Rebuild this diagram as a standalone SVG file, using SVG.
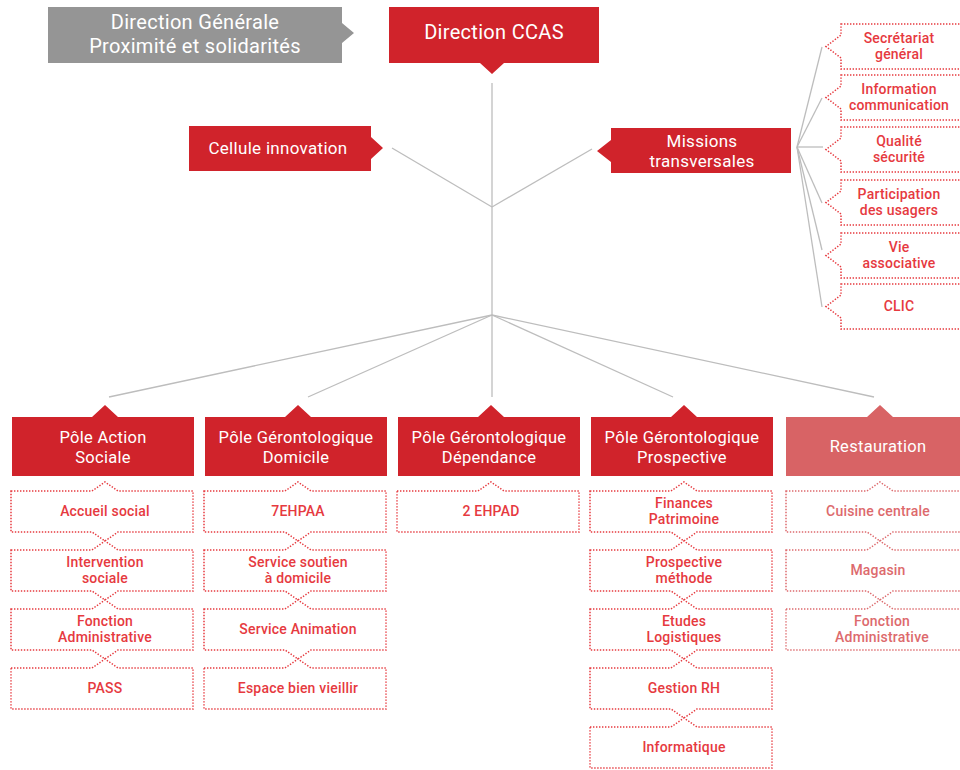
<svg xmlns="http://www.w3.org/2000/svg" width="960" height="770" viewBox="0 0 960 770">
<style>
.hdr{fill:#d0232b}
.hdrl{fill:#d86365}
.grey{fill:#959595}
.wt{fill:#ffffff;font-family:Roboto,"Liberation Sans",sans-serif;text-anchor:middle;letter-spacing:0.3px}
.sub{fill:#ffffff;stroke:#e63a3f;stroke-width:1.5;stroke-dasharray:1.4 1.6}
.subl{fill:#ffffff;stroke:#dd6a6d;stroke-width:1.5;stroke-dasharray:1.4 1.6}
.st{fill:#e63a3f;font-family:Roboto,"Liberation Sans",sans-serif;font-weight:500;font-size:14px;text-anchor:middle;letter-spacing:0.2px}
.stl{fill:#dd6a6d;font-family:Roboto,"Liberation Sans",sans-serif;font-weight:500;font-size:14px;text-anchor:middle;letter-spacing:0.2px}
.con{stroke:#bdbdbd;stroke-width:1.3;fill:none}
</style>
<rect width="960" height="770" fill="#ffffff"/>

<g id="connectors">
<line class="con" x1="492" y1="83" x2="492" y2="397"/>
<line class="con" x1="492" y1="207" x2="392" y2="148"/>
<line class="con" x1="492" y1="207" x2="592" y2="149"/>
<line class="con" x1="492" y1="315" x2="109" y2="397"/>
<line class="con" x1="492" y1="315" x2="308" y2="397"/>
<line class="con" x1="492" y1="315" x2="673" y2="397"/>
<line class="con" x1="492" y1="315" x2="874" y2="397"/>
<line class="con" x1="797" y1="147" x2="822" y2="47"/>
<line class="con" x1="797" y1="147" x2="822" y2="98"/>
<line class="con" x1="797" y1="147" x2="823" y2="147"/>
<line class="con" x1="797" y1="147" x2="822" y2="203"/>
<line class="con" x1="797" y1="147" x2="822" y2="250"/>
<line class="con" x1="797" y1="147" x2="822" y2="307"/>
</g>

<g id="direction-generale">
<path class="grey" d="M48,7 H342 V23 L354,33 L342,43 V63 H48 Z"/>
<text class="wt" x="195" y="29" font-size="20">Direction Générale</text>
<text class="wt" x="195" y="53" font-size="20">Proximité et solidarités</text>
</g>

<g id="direction-ccas">
<path class="hdr" d="M389,7 H599 V63 H504 L492,74 L480,63 H389 Z"/>
<text class="wt" x="494" y="39" font-size="20">Direction CCAS</text>
</g>

<g id="cellule-innovation">
<path class="hdr" d="M189,126 H371 V137 L383,148 L371,159 V171 H189 Z"/>
<text class="wt" x="278" y="154" font-size="17">Cellule innovation</text>
</g>

<g id="missions-transversales">
<path class="hdr" d="M611,128 H791 V173 H611 V162 L597,151 L611,140 Z"/>
<text class="wt" x="702" y="147" font-size="17">Missions</text>
<text class="wt" x="702" y="167" font-size="17">transversales</text>
</g>

<g id="missions-items">
<g id="m-secretariat">
<path class="sub" d="M841,24 H966 V69 H841 V58 L826,46.5 L841,35 Z"/>
<text class="st" x="899" y="43">Secrétariat</text>
<text class="st" x="899" y="59">général</text>
</g>
<g id="m-information">
<path class="sub" d="M841,75 H966 V120 H841 V109 L826,97.5 L841,86 Z"/>
<text class="st" x="899" y="94">Information</text>
<text class="st" x="899" y="110">communication</text>
</g>
<g id="m-qualite">
<path class="sub" d="M841,127 H966 V172 H841 V161 L826,149.5 L841,138 Z"/>
<text class="st" x="899" y="146">Qualité</text>
<text class="st" x="899" y="162">sécurité</text>
</g>
<g id="m-participation">
<path class="sub" d="M841,180 H966 V225 H841 V214 L826,202.5 L841,191 Z"/>
<text class="st" x="899" y="199">Participation</text>
<text class="st" x="899" y="215">des usagers</text>
</g>
<g id="m-vie">
<path class="sub" d="M841,233 H966 V278 H841 V267 L826,255.5 L841,244 Z"/>
<text class="st" x="899" y="252">Vie</text>
<text class="st" x="899" y="268">associative</text>
</g>
<g id="m-clic">
<path class="sub" d="M841,284 H966 V329 H841 V318 L826,306.5 L841,295 Z"/>
<text class="st" x="899" y="311">CLIC</text>
</g>
</g>

<g id="pole-action-sociale">
<path class="hdr" d="M12,417 H92 L105,405 L118,417 H194 V476 H12 Z"/>
<text class="wt" x="103" y="443" font-size="16.5">Pôle Action</text>
<text class="wt" x="103" y="463" font-size="16.5">Sociale</text>
</g>
<g id="pole-domicile">
<path class="hdr" d="M205,417 H285 L298,405 L311,417 H387 V476 H205 Z"/>
<text class="wt" x="296" y="443" font-size="16.5">Pôle Gérontologique</text>
<text class="wt" x="296" y="463" font-size="16.5">Domicile</text>
</g>
<g id="pole-dependance">
<path class="hdr" d="M398,417 H478 L491,405 L504,417 H580 V476 H398 Z"/>
<text class="wt" x="489" y="443" font-size="16.5">Pôle Gérontologique</text>
<text class="wt" x="489" y="463" font-size="16.5">Dépendance</text>
</g>
<g id="pole-prospective">
<path class="hdr" d="M591,417 H671 L684,405 L697,417 H773 V476 H591 Z"/>
<text class="wt" x="682" y="443" font-size="16.5">Pôle Gérontologique</text>
<text class="wt" x="682" y="463" font-size="16.5">Prospective</text>
</g>
<g id="restauration">
<path class="hdrl" d="M786,417 H867 L880,405 L893,417 H968 V476 H786 Z"/>
<text class="wt" x="878" y="452" font-size="16.5">Restauration</text>
</g>

<g id="col1-items">
<g id="accueil-social">
<path class="sub" d="M11,491 H92 L105,482 L118,491 H193 V532 H118 L105,541 L92,532 H11 Z"/>
<text class="st" x="105" y="516">Accueil social</text>
</g>
<g id="intervention-sociale">
<path class="sub" d="M11,550 H92 L105,541 L118,550 H193 V591 H118 L105,600 L92,591 H11 Z"/>
<text class="st" x="105" y="567">Intervention</text>
<text class="st" x="105" y="583">sociale</text>
</g>
<g id="fonction-admin-1">
<path class="sub" d="M11,609 H92 L105,600 L118,609 H193 V650 H118 L105,659 L92,650 H11 Z"/>
<text class="st" x="105" y="626">Fonction</text>
<text class="st" x="105" y="642">Administrative</text>
</g>
<g id="pass">
<path class="sub" d="M11,668 H92 L105,659 L118,668 H193 V709 H11 Z"/>
<text class="st" x="105" y="693">PASS</text>
</g>
</g>

<g id="col2-items">
<g id="ehpaa">
<path class="sub" d="M204,491 H285 L298,482 L311,491 H386 V532 H311 L298,541 L285,532 H204 Z"/>
<text class="st" x="298" y="516">7EHPAA</text>
</g>
<g id="service-soutien">
<path class="sub" d="M204,550 H285 L298,541 L311,550 H386 V591 H311 L298,600 L285,591 H204 Z"/>
<text class="st" x="298" y="567">Service soutien</text>
<text class="st" x="298" y="583">à domicile</text>
</g>
<g id="service-animation">
<path class="sub" d="M204,609 H285 L298,600 L311,609 H386 V650 H311 L298,659 L285,650 H204 Z"/>
<text class="st" x="298" y="634">Service Animation</text>
</g>
<g id="espace-bien-vieillir">
<path class="sub" d="M204,668 H285 L298,659 L311,668 H386 V709 H204 Z"/>
<text class="st" x="298" y="693">Espace bien vieillir</text>
</g>
</g>

<g id="col3-items">
<g id="ehpad">
<path class="sub" d="M397,491 H478 L491,482 L504,491 H579 V532 H397 Z"/>
<text class="st" x="491" y="516">2 EHPAD</text>
</g>
</g>

<g id="col4-items">
<g id="finances">
<path class="sub" d="M590,491 H671 L684,482 L697,491 H772 V532 H697 L684,541 L671,532 H590 Z"/>
<text class="st" x="684" y="508">Finances</text>
<text class="st" x="684" y="524">Patrimoine</text>
</g>
<g id="prospective-methode">
<path class="sub" d="M590,550 H671 L684,541 L697,550 H772 V591 H697 L684,600 L671,591 H590 Z"/>
<text class="st" x="684" y="567">Prospective</text>
<text class="st" x="684" y="583">méthode</text>
</g>
<g id="etudes-logistiques">
<path class="sub" d="M590,609 H671 L684,600 L697,609 H772 V650 H697 L684,659 L671,650 H590 Z"/>
<text class="st" x="684" y="626">Etudes</text>
<text class="st" x="684" y="642">Logistiques</text>
</g>
<g id="gestion-rh">
<path class="sub" d="M590,668 H671 L684,659 L697,668 H772 V709 H697 L684,718 L671,709 H590 Z"/>
<text class="st" x="684" y="693">Gestion RH</text>
</g>
<g id="informatique">
<path class="sub" d="M590,727 H671 L684,718 L697,727 H772 V768 H590 Z"/>
<text class="st" x="684" y="752">Informatique</text>
</g>
</g>

<g id="col5-items">
<g id="cuisine-centrale">
<path class="subl" d="M786,491 H867 L880,482 L893,491 H968 V532 H893 L880,541 L867,532 H786 Z"/>
<text class="stl" x="878" y="516">Cuisine centrale</text>
</g>
<g id="magasin">
<path class="subl" d="M786,550 H867 L880,541 L893,550 H968 V591 H893 L880,600 L867,591 H786 Z"/>
<text class="stl" x="878" y="575">Magasin</text>
</g>
<g id="fonction-admin-2">
<path class="subl" d="M786,609 H867 L880,600 L893,609 H968 V650 H786 Z"/>
<text class="stl" x="882" y="626">Fonction</text>
<text class="stl" x="882" y="642">Administrative</text>
</g>
</g>
</svg>
